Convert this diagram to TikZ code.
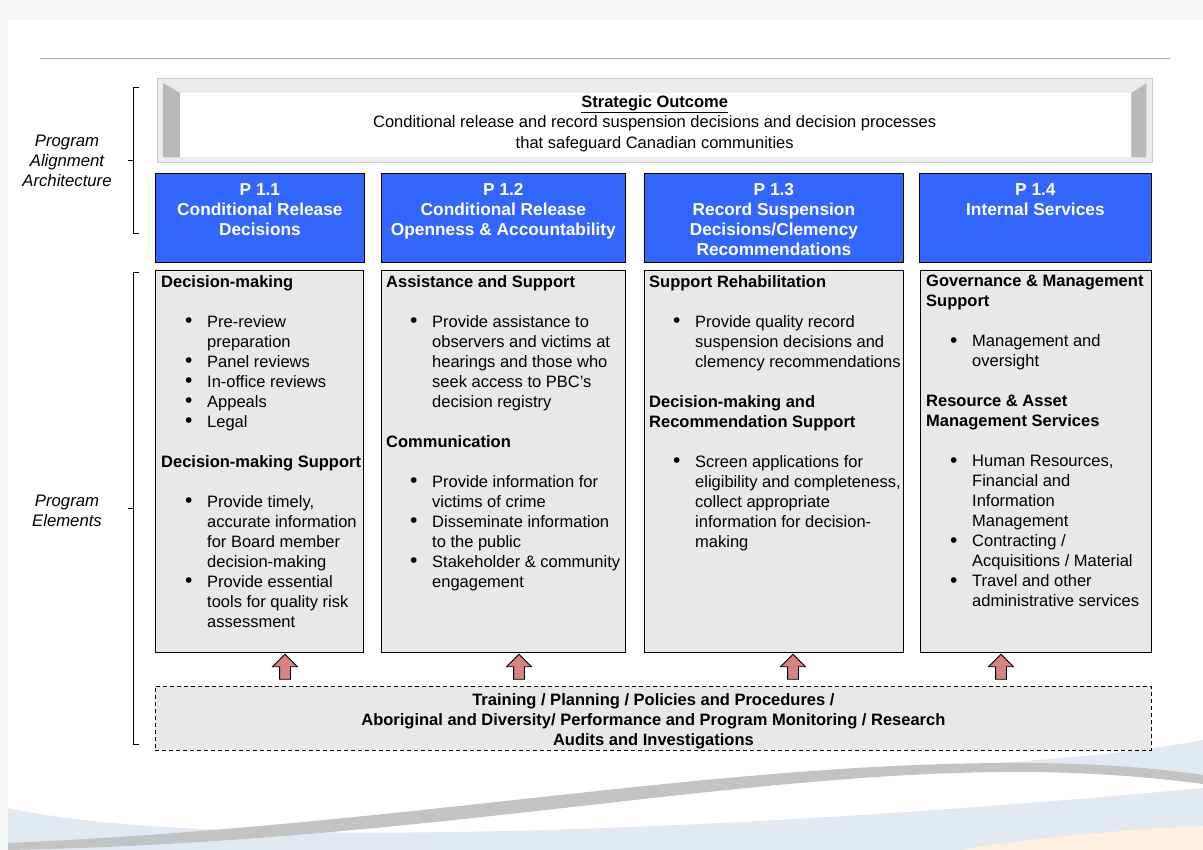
\documentclass[tikz,border=0pt]{standalone}
\usepackage{fontspec}
\setmainfont{Liberation Sans}
\usetikzlibrary{positioning,shapes.arrows,calc}

\definecolor{hdrblue}{HTML}{3366FF}
\definecolor{boxgray}{HTML}{E8E8E8}
\definecolor{uparrowred}{HTML}{D98282}
\definecolor{swooshblue}{HTML}{E3E9F0}
\definecolor{swooshgray}{HTML}{C3C3C3}
\definecolor{swooshpeach}{HTML}{FDF0DE}

\newcommand{\bul}{\hspace*{24pt}\makebox[22pt][l]{\raisebox{-0.6pt}{\fontsize{21}{20}\selectfont\textbullet}}}
\newcommand{\cont}{\hspace*{46pt}}

\tikzset{
  hdrbox/.style={draw=black, line width=0.8pt, fill=hdrblue, rectangle, anchor=north west, minimum height=89pt, inner sep=0pt},
  hdrtext/.style={text=white, font=\fontsize{17.3}{20}\selectfont\bfseries, align=center, inner sep=0pt},
  elembox/.style={draw=black, line width=0.8pt, fill=boxgray, rectangle, anchor=north west, minimum height=382pt, inner sep=0pt},
  elemtext/.style={font=\fontsize{16.5}{20}\selectfont, align=left, inner sep=0pt},
  uparrow/.style={shape=single arrow, draw=black, line width=0.9pt, fill=uparrowred, rotate=90, minimum height=25pt, inner sep=5pt, single arrow head extend=7pt},
  sidelabel/.style={font=\fontsize{16.7}{20}\selectfont\itshape, align=center, inner sep=0pt},
}

\begin{document}
\begin{tikzpicture}[x=1pt, y=-1pt]
        \useasboundingbox (0,0) rectangle (1203,850);
        % Page
        \fill[gray!6] (0,0) rectangle (1203,850);
        \fill[white] (8,20) rectangle (1203,850);
        \fill[swooshblue] (8,808) .. controls (200,850) and (700,835) .. (1203,788) -- (1203,850) -- (8,850) -- cycle;
        \fill[swooshblue] (980,764) .. controls (1080,758) and (1150,750) .. (1203,740) -- (1203,778) .. controls (1150,768) and (1080,762) .. (980,764) -- cycle;
        \fill[swooshpeach] (960,850) .. controls (1050,835) and (1150,828) .. (1203,826) -- (1203,850) -- cycle;
        \fill[swooshgray] (8,843) .. controls (400,826) and (700,765) .. (1000,763) .. controls (1100,762) and (1170,770) .. (1203,775)
            -- (1203,784) .. controls (1150,777) and (1080,771) .. (1000,772) .. controls (720,775) and (420,842) .. (8,850) -- cycle;
        \draw[gray!65, line width=1pt] (40,59) -- (1170,59);

        % Strategic Outcome
        \node [draw=gray!40, fill=gray!15, rectangle, minimum width=995pt, minimum height=84pt, anchor=north west, inner sep=0pt] (Outcome) at (157,78) {};
        \fill[gray!55] ($(Outcome.north west)+(6,5)$) -- ($(Outcome.north west)+(23,15)$) -- ($(Outcome.south west)+(23,-5)$) -- ($(Outcome.south west)+(6,-5)$) -- cycle;
        \fill[gray!55] ($(Outcome.north east)+(-6,5)$) -- ($(Outcome.north east)+(-21,15)$) -- ($(Outcome.south east)+(-21,-5)$) -- ($(Outcome.south east)+(-6,-5)$) -- cycle;
        \fill[white] ($(Outcome.north west)+(23,15)$) rectangle ($(Outcome.south east)+(-21,-5)$);
        \node [font=\fontsize{16.5}{20.5}\selectfont, align=center, inner sep=0pt, below=17pt of Outcome.north] (OutcomeText)
            {\textbf{\underline{Strategic Outcome}}\\Conditional release and record suspension decisions and decision processes\\that safeguard Canadian communities};

        % Program headers
        \node [hdrbox, minimum width=209pt] (Head1) at (155,173) {};
        \node [hdrtext, below=10pt of Head1.north] (Title1) {P 1.1\\Conditional Release\\Decisions};
        \node [hdrbox, minimum width=244pt] (Head2) at (381,173) {};
        \node [hdrtext, below=10pt of Head2.north] (Title2) {P 1.2\\Conditional Release\\Openness \& Accountability};
        \node [hdrbox, minimum width=259pt] (Head3) at (644,173) {};
        \node [hdrtext, below=10pt of Head3.north] (Title3) {P 1.3\\Record Suspension\\Decisions/Clemency\\Recommendations};
        \node [hdrbox, minimum width=232pt] (Head4) at (919,173) {};
        \node [hdrtext, below=10pt of Head4.north] (Title4) {P 1.4\\Internal Services};

        % Program elements
        \node [elembox, minimum width=208pt] (Elem1) at (155,270) {};
        \node [elemtext, below right=5pt and 6pt of Elem1.north west] (Text1)
            {\textbf{Decision-making}\\[20pt]
             \bul Pre-review\\ \cont preparation\\ \bul Panel reviews\\ \bul In-office reviews\\ \bul Appeals\\ \bul Legal\\[20pt]
             \textbf{Decision-making Support}\\[20pt]
             \bul Provide timely,\\ \cont accurate information\\ \cont for Board member\\ \cont decision-making\\
             \bul Provide essential\\ \cont tools for quality risk\\ \cont assessment};

        \node [elembox, minimum width=244pt] (Elem2) at (381,270) {};
        \node [elemtext, below right=5pt and 5pt of Elem2.north west] (Text2)
            {\textbf{Assistance and Support}\\[20pt]
             \bul Provide assistance to\\ \cont observers and victims at\\ \cont hearings and those who\\ \cont seek access to PBC’s\\ \cont decision registry\\[20pt]
             \textbf{Communication}\\[20pt]
             \bul Provide information for\\ \cont victims of crime\\ \bul Disseminate information\\ \cont to the public\\
             \bul Stakeholder \& community\\ \cont engagement};

        \node [elembox, minimum width=259pt] (Elem3) at (644,270) {};
        \node [elemtext, below right=5pt and 5pt of Elem3.north west] (Text3)
            {\textbf{Support Rehabilitation}\\[20pt]
             \bul Provide quality record\\ \cont suspension decisions and\\ \cont clemency recommendations\\[20pt]
             \textbf{Decision-making and}\\ \textbf{Recommendation Support}\\[20pt]
             \bul Screen applications for\\ \cont eligibility and completeness,\\ \cont collect appropriate\\ \cont information for decision-\\ \cont making};

        \node [elembox, minimum width=231pt] (Elem4) at (920,270) {};
        \node [elemtext, below right=5pt and 6pt of Elem4.north west] (Text4)
            {\textbf{Governance \& Management}\\ \textbf{Support}\\[20pt]
             \bul Management and\\ \cont oversight\\[20pt]
             \textbf{Resource \& Asset}\\ \textbf{Management Services}\\[20pt]
             \bul Human Resources,\\ \cont Financial and\\ \cont Information\\ \cont Management\\
             \bul Contracting /\\ \cont Acquisitions / Material\\ \bul Travel and other\\ \cont administrative services};

        % Support activities
        \node [draw=black, dash pattern=on 4pt off 3pt, line width=0.8pt, fill=boxgray, rectangle, minimum width=996pt, minimum height=64pt,
               anchor=north west, inner sep=0pt] (Base) at (155,686) {};
        \node [align=center, inner sep=0pt, font=\fontsize{16.5}{20}\selectfont\bfseries, below=7pt of Base.north] (BaseText)
            {Training / Planning / Policies and Procedures /\\Aboriginal and Diversity/ Performance and Program Monitoring / Research\\Audits and Investigations};

        % Arrows
        \node [uparrow] (Up1) at (285,669.5) {};
        \node [uparrow] (Up2) at (519,669.5) {};
        \node [uparrow] (Up3) at (793,669.5) {};
        \node [uparrow] (Up4) at (1001,669.5) {};

        % Brackets
        \draw [line width=0.8pt] (139,87) -- (133,87) -- (133,233) -- (139,233);
        \draw [line width=0.8pt] (133,160) -- (128,160);
        \draw [line width=0.8pt] (139,272) -- (133,272) -- (133,744) -- (139,744);
        \draw [line width=0.8pt] (133,508) -- (128,508);
        \node [sidelabel] (AlignLabel) at (67,161) {Program\\Alignment\\Architecture};
        \node [sidelabel] (ElemLabel) at (67,511) {Program\\Elements};
    \end{tikzpicture}
\end{document}
